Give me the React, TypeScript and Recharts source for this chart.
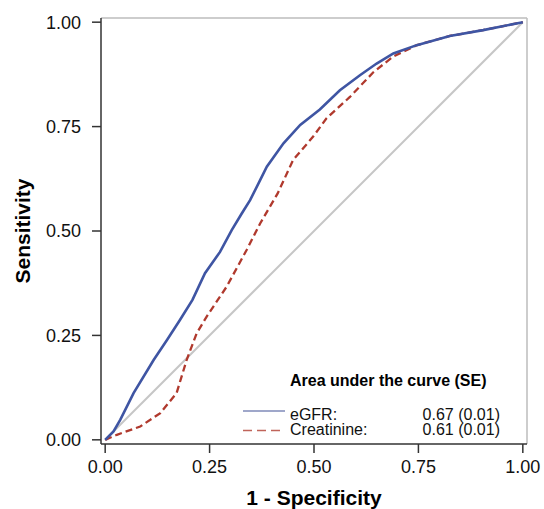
import React from 'react';
import { Label, Line, LineChart, ReferenceLine, XAxis, YAxis } from 'recharts';

const FONT = '"Liberation Sans", Arial, Helvetica, sans-serif';
const BLUE = '#3f55a3';
const RED = '#b0392d';
const GREY = '#c6c6c6';
const AXIS = '#333333';

// ROC curves (1 - specificity, sensitivity)
const axisTicks = [0, 0.25, 0.5, 0.75, 1];

const egfrFpr = [0, 0.02, 0.036, 0.068, 0.116, 0.148, 0.179, 0.209, 0.239, 0.275, 0.303, 0.327, 0.347, 0.371, 0.387, 0.427, 0.467, 0.514, 0.562, 0.61, 0.65, 0.69, 0.746, 0.825, 0.905, 1];
const egfrTpr = [0, 0.02, 0.048, 0.112, 0.191, 0.239, 0.287, 0.335, 0.399, 0.45, 0.502, 0.542, 0.574, 0.622, 0.654, 0.71, 0.754, 0.791, 0.837, 0.873, 0.901, 0.925, 0.945, 0.967, 0.981, 1];

const creatFpr = [0, 0.028, 0.084, 0.132, 0.171, 0.195, 0.219, 0.243, 0.291, 0.339, 0.371, 0.413, 0.45, 0.498, 0.53, 0.586, 0.642, 0.69, 0.746, 0.825, 0.905, 1];
const creatTpr = [0, 0.012, 0.032, 0.064, 0.112, 0.191, 0.255, 0.295, 0.367, 0.455, 0.518, 0.59, 0.67, 0.726, 0.77, 0.821, 0.88, 0.918, 0.945, 0.967, 0.981, 1];

const refFpr = [0, 1];
const refTpr = [0, 1];

const aucTitle = 'Area under the curve (SE)';
const aucLabels = ['eGFR:', 'Creatinine:'];
const aucValues = ['0.67 (0.01)', '0.61 (0.01)'];

const toPoints = (xs: number[], ys: number[]) => xs.map((x, i) => ({ fpr: x, tpr: ys[i] }));

const egfrData = toPoints(egfrFpr, egfrTpr);
const creatData = toPoints(creatFpr, creatTpr);
const refData = toPoints(refFpr, refTpr);

const tickStyle = { fill: '#111', fontSize: 18, fontFamily: FONT };

function YTitle({ viewBox }: any) {
  const cx = 30;
  const cy = viewBox.y + viewBox.height / 2;
  return (
    <text
      x={cx}
      y={cy}
      transform={`rotate(-90, ${cx}, ${cy})`}
      textAnchor="middle"
      fontFamily={FONT}
      fontWeight="bold"
      fontSize={21}
      fill="#000"
    >
      Sensitivity
    </text>
  );
}

function AucLegend() {
  return (
    <svg width={544} height={509} style={{ position: 'absolute', left: 0, top: 0, pointerEvents: 'none' }}>
      <text x={290} y={386} fontFamily={FONT} fontWeight="bold" fontSize={16} fill="#000">
        {aucTitle}
      </text>
      <line x1={243} x2={285} y1={411} y2={411} stroke="#7f8ab8" strokeWidth={1.5} />
      <line x1={243} x2={285} y1={430.5} y2={430.5} stroke="#c0645a" strokeWidth={1.5} strokeDasharray="9 5" />
      {aucLabels.map((lab, i) => (
        <text key={lab} x={290} y={419.5 + i * 15.5} fontFamily={FONT} fontSize={16} fill="#111">
          {lab}
        </text>
      ))}
      {aucValues.map((v, i) => (
        <text key={i} x={500} y={419.5 + i * 15.5} textAnchor="end" fontFamily={FONT} fontSize={16} fill="#111">
          {v}
        </text>
      ))}
    </svg>
  );
}

export default function App() {
  return (
    <div style={{ position: 'absolute', left: 0, top: 0, width: 544, height: 509, background: '#fff' }}>
      <LineChart width={544} height={509} margin={{ top: 18, right: 17, bottom: 0, left: 0 }}>
        <XAxis
          type="number"
          dataKey="fpr"
          domain={[-0.01, 1.01]}
          ticks={axisTicks}
          tickFormatter={(v: number) => v.toFixed(2)}
          allowDataOverflow
          height={65}
          tickSize={9}
          tickMargin={7}
          tick={tickStyle}
          stroke={AXIS}
          strokeWidth={1.5}
        >
          <Label
            value="1 - Specificity"
            position="insideBottom"
            offset={4}
            style={{ fontFamily: FONT, fontWeight: 'bold', fontSize: 21, fill: '#000' }}
          />
        </XAxis>
        <YAxis
          type="number"
          dataKey="tpr"
          domain={[-0.01, 1.01]}
          ticks={axisTicks}
          tickFormatter={(v: number) => v.toFixed(2)}
          allowDataOverflow
          width={101}
          tickSize={9}
          tickMargin={11}
          tick={tickStyle}
          stroke={AXIS}
          strokeWidth={1.5}
        >
          <Label content={<YTitle />} />
        </YAxis>
        <ReferenceLine x={1.01} stroke="#bdbdbd" strokeWidth={1.5} ifOverflow="visible" />
        <ReferenceLine y={1.01} stroke="#bdbdbd" strokeWidth={1.5} ifOverflow="visible" />
        <Line data={refData} dataKey="tpr" type="linear" stroke={GREY} strokeWidth={2} dot={false} isAnimationActive={false} />
        <Line data={creatData} dataKey="tpr" type="linear" stroke={RED} strokeWidth={2.3} strokeDasharray="7 4" dot={false} isAnimationActive={false} />
        <Line data={egfrData} dataKey="tpr" type="linear" stroke={BLUE} strokeWidth={2.6} dot={false} isAnimationActive={false} />
      </LineChart>
      <AucLegend />
    </div>
  );
}
